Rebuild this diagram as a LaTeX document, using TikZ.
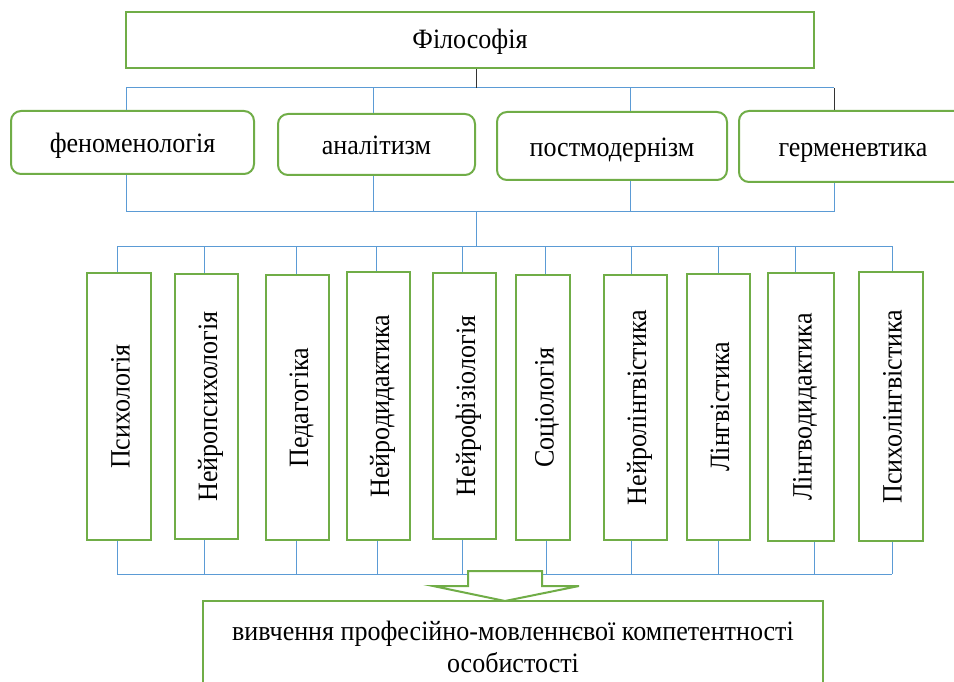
\documentclass[tikz,border=0pt]{standalone}
\usepackage{fontspec}
\setmainfont[FakeStretch=0.93]{Liberation Serif}
\definecolor{grn}{HTML}{70AD47}
\definecolor{blu}{HTML}{5B9BD5}
\tikzset{
  greenbox/.style={draw=grn, line width=2pt, fill=white, inner sep=0pt,
    font=\fontsize{28}{32}\selectfont, text height=21pt, text depth=0pt},
  roundbox/.style={greenbox, rounded corners=10pt},
  vbox/.style={greenbox, rotate=90},
  blueline/.style={draw=blu, line width=1pt},
  blackline/.style={draw=black!80, line width=0.8pt}
}
\begin{document}
\begin{tikzpicture}[x=1pt,y=-1pt]
\useasboundingbox (0,0) rectangle (954,682);
% top
\node[greenbox, text height=17pt, minimum width=688pt, minimum height=56pt] (phil) at (470,40) {Філософія};
\node[roundbox, minimum width=243pt, minimum height=63pt] (fen) at (132.5,142.5) {феноменологія};
\node[roundbox, minimum width=197pt, minimum height=61pt] (ana) at (376.5,144.5) {аналітизм};
\node[roundbox, minimum width=230pt, minimum height=68pt] (post) at (612,146) {постмодернізм};
\node[roundbox, minimum width=228pt, minimum height=71pt] (germ) at (853,146.5) {герменевтика};
% vertical boxes
\node[vbox, minimum width=267pt, minimum height=64pt] (p1) at (119,406.5) {Психологія};
\node[vbox, minimum width=265pt, minimum height=63pt] (p2) at (206.5,406.5) {Нейропсихологія};
\node[vbox, minimum width=265pt, minimum height=63pt] (p3) at (297.5,407.5) {Педагогіка};
\node[vbox, minimum width=268pt, minimum height=63pt] (p4) at (378.5,406) {Нейродидактика};
\node[vbox, minimum width=266pt, minimum height=63pt] (p5) at (464.5,406) {Нейрофізіологія};
\node[vbox, minimum width=265pt, minimum height=54pt] (p6) at (543,407.5) {Соціологія};
\node[vbox, minimum width=265pt, minimum height=63pt] (p7) at (635.5,407.5) {Нейролінгвістика};
\node[vbox, minimum width=266pt, minimum height=63pt] (p8) at (718.5,407) {Лінгвістика};
\node[vbox, minimum width=268pt, minimum height=66pt] (p9) at (801,407) {Лінгводидактика};
\node[vbox, minimum width=269pt, minimum height=64pt] (p10) at (891,406.5) {Психолінгвістика};
% upper buses
\coordinate (a0) at (476,88);
\coordinate (a1) at (126,88);
\coordinate (a2) at (373,88);
\coordinate (a3) at (630,88);
\coordinate (a4) at (834,88);
\draw[blueline] (a1) -- (a4);
\draw[blackline] (phil.south -| a0) -- (a0);
\draw[blueline] (a1) -- (a1 |- fen.north);
\draw[blueline] (a2) -- (a2 |- ana.north);
\draw[blueline] (a3) -- (a3 |- post.north);
\draw[blackline] (a4) -- (a4 |- germ.north);
\coordinate (c0) at (476,212);
\coordinate (c1) at (126,212);
\coordinate (c2) at (373,212);
\coordinate (c3) at (630,212);
\coordinate (c4) at (834,212);
\draw[blueline] (c1) -- (c4);
\draw[blueline] (fen.south -| c1) -- (c1);
\draw[blueline] (ana.south -| c2) -- (c2);
\draw[blueline] (post.south -| c3) -- (c3);
\draw[blueline] (germ.south -| c4) -- (c4);
% second bus
\coordinate (t0) at (476,246);
\draw[blueline] (c0) -- (t0);
\foreach \i/\x in {1/117,2/204,3/296,4/376,5/462,6/545,7/631,8/718,9/795,10/892}{
  \coordinate (t\i) at (\x,246);
  \draw[blueline] (t\i) -- (t\i |- p\i.east);
}
\draw[blueline] (t1) -- (t10);
% bottom bus
\foreach \i/\x in {1/117,2/204,3/296,4/377,5/462,6/546,7/631,8/718,9/814,10/892}{
  \coordinate (u\i) at (\x,574);
  \draw[blueline] (p\i.west -| u\i) -- (u\i);
}
\draw[blueline] (u1) -- (u10);
% arrow
\draw[draw=grn, line width=2pt, fill=white, line join=miter]
  (468,571) -- (542,571) -- (542,586) -- (579,586) -- (505,601) -- (433,586) -- (468,586) -- cycle;
% result
\node[greenbox, minimum width=620pt, minimum height=96pt, text height=0pt, text depth=18pt] (res) at (513,649)
  {\begin{tabular}[t]{@{}c@{}}вивчення професійно-мовленнєвої компетентності\\особистості\end{tabular}};
\end{tikzpicture}
\end{document}
